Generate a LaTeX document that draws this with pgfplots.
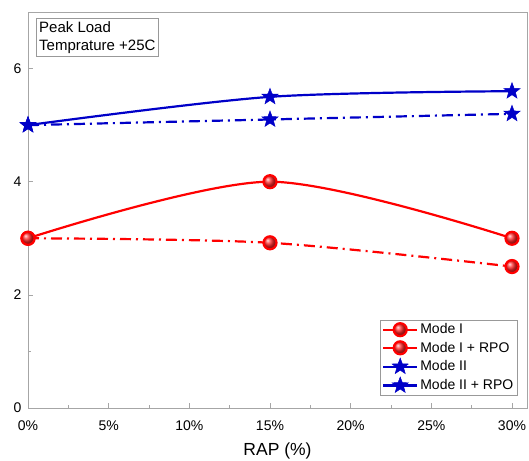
\documentclass[border=0pt]{standalone}
\usepackage{fontspec}
\setmainfont{Liberation Sans}
\usepackage{pgfplots}
\pgfplotsset{compat=1.18}
\definecolor{myred}{RGB}{255,0,0}
\definecolor{myblue}{RGB}{0,0,200}
\pgfdeclareplotmark{fstar}{%
  \pgfpathmoveto{\pgfpointpolar{90}{\pgfplotmarksize}}%
  \pgfpathlineto{\pgfpointpolar{126}{0.42\pgfplotmarksize}}%
  \pgfpathlineto{\pgfpointpolar{162}{\pgfplotmarksize}}%
  \pgfpathlineto{\pgfpointpolar{198}{0.42\pgfplotmarksize}}%
  \pgfpathlineto{\pgfpointpolar{234}{\pgfplotmarksize}}%
  \pgfpathlineto{\pgfpointpolar{270}{0.42\pgfplotmarksize}}%
  \pgfpathlineto{\pgfpointpolar{306}{\pgfplotmarksize}}%
  \pgfpathlineto{\pgfpointpolar{342}{0.42\pgfplotmarksize}}%
  \pgfpathlineto{\pgfpointpolar{18}{\pgfplotmarksize}}%
  \pgfpathlineto{\pgfpointpolar{54}{0.42\pgfplotmarksize}}%
  \pgfpathclose
  \pgfusepathqfillstroke
}
\begin{document}
\begin{tikzpicture}
\begin{axis}[
  scale only axis,
  width=499pt, height=396pt,
  xmin=0, xmax=30.93,
  ymin=0, ymax=7,
  xtick={0,5,10,15,20,25,30},
  ytick={0,2,4,6},
  minor x tick num=1,
  minor y tick num=1,
  tick align=inside,
  xtick pos=bottom, ytick pos=left,
  major tick length=5pt, minor tick length=3pt,
  axis line style={draw=gray!70, line width=0.8pt},
  every tick/.style={gray!70, line width=0.6pt},
  /pgf/number format/assume math mode=true,
  xticklabel={\pgfmathprintnumber{\tick}\%},
  ticklabel style={font=\fontsize{14}{16}\selectfont},
  xticklabel style={yshift=-9pt},
  yticklabel style={xshift=-3pt},
  xlabel={RAP (\%)},
  xlabel style={font=\fontsize{17.5}{20}\selectfont, yshift=-6pt},
  legend cell align=left,
  legend style={at={(rel axis cs:1,0)}, anchor=south east, xshift=-10pt, yshift=13pt,
    font=\fontsize{14}{16}\selectfont, draw=gray!80, inner sep=1.5pt, row sep=2.5pt},
  legend image code/.code={\draw[mark repeat=2,mark phase=2,#1,solid] plot coordinates {(0pt,0pt) (17pt,0pt) (34pt,0pt)};},
  every axis plot/.append style={line width=2.2pt},
  clip=false,
]
\addplot[myred, smooth, mark=ball, mark size=6.5pt, mark options={ball color=red!85!white, solid}] coordinates {(0,3.0) (15,4.0) (30,3.0)};
\addlegendentry{Mode I}
\addplot[myred, smooth, dash pattern=on 11pt off 5pt on 2pt off 5pt, mark=ball, mark size=6.5pt, mark options={ball color=red!85!white, solid}] coordinates {(0,3.0) (15,2.92) (30,2.5)};
\addlegendentry{Mode I + RPO}
\addplot[myblue, smooth, mark=fstar, mark size=8.5pt, mark options={solid, fill=myblue, line width=0.5pt}] coordinates {(0,5.0) (15,5.5) (30,5.6)};
\addlegendentry{Mode II}
\addplot[myblue, smooth, dash pattern=on 11pt off 5pt on 2pt off 5pt, mark=fstar, mark size=8.5pt, mark options={solid, fill=myblue, line width=0.5pt}] coordinates {(0,5.0) (15,5.1) (30,5.2)};
\addlegendentry{Mode II + RPO}
\node[draw=gray!80, anchor=north west, align=left, inner sep=3pt,
  font=\fontsize{15}{18}\selectfont] at ([xshift=8pt,yshift=-6pt]rel axis cs:0,1)
  {Peak Load\\Temprature +25C};
\end{axis}
\pgfresetboundingbox
\path (current axis.south west) ++(-28pt,-53pt) coordinate (bl);
\path (current axis.north east) ++(2pt,12pt) coordinate (tr);
\path (bl) rectangle (tr);
\end{tikzpicture}
\end{document}
